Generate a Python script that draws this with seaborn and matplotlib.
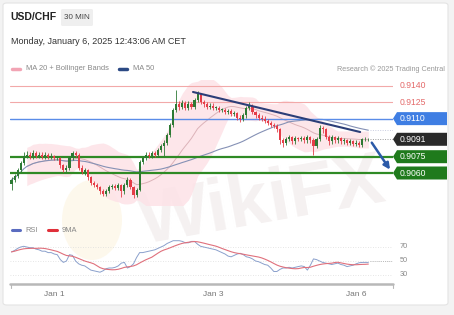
import numpy as np
import pandas as pd
import matplotlib
matplotlib.use("Agg")
import matplotlib.pyplot as plt
import seaborn as sns
from matplotlib.patches import FancyBboxPatch, FancyArrowPatch, Polygon, Ellipse

# ---------------- data ----------------
first_open = 0.9050
closes = [0.9054, 0.9057, 0.9063, 0.9069, 0.9076, 0.9077, 0.9075, 0.9078, 0.9076, 0.9077,
          0.9075, 0.9077, 0.9075, 0.9076, 0.9074, 0.9074, 0.9067, 0.9063, 0.9065, 0.9074,
          0.9078, 0.9077, 0.9065, 0.9061, 0.9063, 0.9056, 0.9051, 0.9049, 0.9047, 0.9043,
          0.9041, 0.9043, 0.9047, 0.9048, 0.9046, 0.9049, 0.9043, 0.9049, 0.9054, 0.9047,
          0.9040, 0.9044, 0.9070, 0.9074, 0.9077, 0.9076, 0.9078, 0.9077, 0.9081, 0.9085,
          0.9088, 0.9095, 0.9104, 0.9118, 0.9123, 0.9121, 0.9124, 0.9120, 0.9123, 0.9121,
          0.9127, 0.9133, 0.9125, 0.9123, 0.9121, 0.9122, 0.9120, 0.9120, 0.9118, 0.9118,
          0.9116, 0.9117, 0.9114, 0.9115, 0.9111, 0.9110, 0.9113, 0.9120, 0.9122, 0.9116,
          0.9113, 0.9111, 0.9110, 0.9108, 0.9106, 0.9104, 0.9103, 0.9100, 0.9090, 0.9088,
          0.9091, 0.9093, 0.9089, 0.9092, 0.9091, 0.9092, 0.9090, 0.9093, 0.9090, 0.9085,
          0.9091, 0.9101, 0.9100, 0.9093, 0.9089, 0.9093, 0.9090, 0.9092, 0.9089, 0.9090,
          0.9088, 0.9089, 0.9087, 0.9088, 0.9086, 0.9091, 0.9091, 0.9091]
highs = [0.9056, 0.9059, 0.9065, 0.9071, 0.9079, 0.9080, 0.9079, 0.9081, 0.9080, 0.9079,
         0.9079, 0.9079, 0.9078, 0.9078, 0.9077, 0.9076, 0.9075, 0.9068, 0.9067, 0.9076,
         0.9080, 0.9080, 0.9078, 0.9067, 0.9065, 0.9064, 0.9057, 0.9053, 0.9051, 0.9048,
         0.9045, 0.9045, 0.9049, 0.9050, 0.9050, 0.9051, 0.9050, 0.9051, 0.9056, 0.9055,
         0.9048, 0.9046, 0.9072, 0.9076, 0.9079, 0.9079, 0.9080, 0.9080, 0.9083, 0.9087,
         0.9090, 0.9097, 0.9106, 0.9120, 0.9136, 0.9126, 0.9127, 0.9126, 0.9126, 0.9125,
         0.9129, 0.9135, 0.9134, 0.9127, 0.9125, 0.9124, 0.9124, 0.9122, 0.9122, 0.9120,
         0.9120, 0.9119, 0.9119, 0.9117, 0.9116, 0.9113, 0.9115, 0.9122, 0.9125, 0.9123,
         0.9117, 0.9115, 0.9113, 0.9112, 0.9110, 0.9108, 0.9106, 0.9105, 0.9101, 0.9092,
         0.9093, 0.9095, 0.9094, 0.9094, 0.9093, 0.9094, 0.9094, 0.9095, 0.9094, 0.9092,
         0.9093, 0.9104, 0.9103, 0.9101, 0.9095, 0.9095, 0.9094, 0.9094, 0.9093, 0.9092,
         0.9091, 0.9091, 0.9090, 0.9090, 0.9089, 0.9092, 0.9093, 0.9092]
lows = [0.9044, 0.9052, 0.9055, 0.9061, 0.9067, 0.9074, 0.9073, 0.9073, 0.9074, 0.9074,
        0.9073, 0.9073, 0.9073, 0.9073, 0.9072, 0.9072, 0.9065, 0.9061, 0.9061, 0.9063,
        0.9072, 0.9075, 0.9063, 0.9059, 0.9058, 0.9054, 0.9049, 0.9047, 0.9045, 0.9041,
        0.9039, 0.9039, 0.9042, 0.9045, 0.9044, 0.9044, 0.9038, 0.9041, 0.9047, 0.9045,
        0.9037, 0.9038, 0.9043, 0.9068, 0.9072, 0.9074, 0.9074, 0.9075, 0.9075, 0.9079,
        0.9076, 0.9086, 0.9093, 0.9102, 0.9116, 0.9118, 0.9119, 0.9118, 0.9118, 0.9119,
        0.9119, 0.9125, 0.9123, 0.9121, 0.9119, 0.9119, 0.9118, 0.9118, 0.9116, 0.9116,
        0.9114, 0.9114, 0.9112, 0.9112, 0.9109, 0.9107, 0.9108, 0.9111, 0.9118, 0.9114,
        0.9111, 0.9109, 0.9108, 0.9106, 0.9104, 0.9102, 0.9101, 0.9098, 0.9087, 0.9084,
        0.9086, 0.9089, 0.9087, 0.9087, 0.9089, 0.9089, 0.9088, 0.9088, 0.9088, 0.9077,
        0.9083, 0.9089, 0.9097, 0.9091, 0.9086, 0.9087, 0.9088, 0.9088, 0.9087, 0.9087,
        0.9086, 0.9086, 0.9085, 0.9085, 0.9084, 0.9084, 0.9089, 0.9089]
rsi = [63, 65, 68, 70, 71, 70, 69, 69, 67, 66,
       64, 64, 62, 62, 60, 59, 52, 48, 50, 59,
       58, 50, 46, 44, 43, 40, 37, 36, 35, 34,
       36, 39, 40, 40, 41, 43, 47, 48, 40, 42,
       46, 55, 62, 62, 63, 64, 65, 66, 68, 70,
       72, 75, 77, 79, 79, 79, 78, 76, 76, 78,
       78, 74, 71, 70, 69, 68, 67, 66, 64, 62,
       60, 57, 56, 58, 60, 61, 59, 56, 55, 53,
       50, 49, 47, 45, 44, 40, 35, 35, 38, 40,
       40, 41, 40, 41, 42, 43, 42, 37, 44, 53,
       52, 50, 48, 47, 46, 45, 46, 47, 45, 44,
       42, 43, 44, 46, 47.5, 48, 48, 48]

date_labels = ["Jan 1", "Jan 3", "Jan 6"]
date_ticks = [14, 66, 113]

red_levels = [0.9140, 0.9125]
blue_level = 0.9110
last_price = 0.9091
green_levels = [0.9075, 0.9060]
level_labels = {0.9140: "0.9140", 0.9125: "0.9125", 0.9110: "0.9110",
                0.9091: "0.9091", 0.9075: "0.9075", 0.9060: "0.9060"}
trend_x = [59.5, 114.3]
trend_y = [0.91345, 0.90977]
arrow_from = (117.6, 0.9090)
arrow_to = (124.6, 0.9061)
rsi_levels = [70, 50, 30]

# ---------------- derived frame ----------------
n = len(closes)
idx = np.arange(n)
opens = [first_open] + closes[:-1]
df = pd.DataFrame({"i": idx, "open": opens, "close": closes, "high": highs, "low": lows,
                   "rsi": rsi})
df["ma20"] = df["close"].rolling(20, min_periods=6).mean()
df["sd20"] = df["close"].rolling(20, min_periods=6).std(ddof=0)
df["bb_up"] = df["ma20"] + 2 * df["sd20"]
df["bb_dn"] = df["ma20"] - 2 * df["sd20"]
df["ma50"] = df["close"].rolling(50, min_periods=1).mean()
df["rsi_ma"] = df["rsi"].rolling(9, min_periods=1).mean()

# ---------------- figure ----------------
sns.set_theme(style="white")
plt.rcParams["font.family"] = ["Liberation Sans", "DejaVu Sans"]

W, H = 454, 315
fig = plt.figure(figsize=(W / 100, H / 100), dpi=100)
fig.patch.set_facecolor("#f3f3f3")


def fx(px):
    return px / W


def fy(py):
    return 1 - py / H


card = FancyBboxPatch((fx(3), fy(305)), fx(448) - fx(3), fy(3) - fy(305),
                      boxstyle="round,pad=0,rounding_size=0.008", transform=fig.transFigure,
                      facecolor="white", edgecolor="#e4e4e4", lw=0.8, zorder=-10)
fig.patches.append(card)

# watermark
fig.text(fx(262), fy(203), "WikiFX", fontsize=54, fontweight="bold", color="#ebe3e3",
         alpha=0.5, rotation=10, ha="center", va="center", zorder=-5)
logo = Ellipse((fx(92), fy(220)), fx(60), 80 / H, transform=fig.transFigure,
               facecolor="#fdf6e4", edgecolor="none", alpha=0.7, zorder=-6)
fig.patches.append(logo)

# header
fig.text(fx(10), fy(17), "USD/CHF", fontsize=7.5, fontweight="bold", color="#222222", va="center")
hdr = FancyBboxPatch((fx(61), fy(26)), fx(32), 17 / H, boxstyle="round,pad=0,rounding_size=0.004",
                     transform=fig.transFigure, facecolor="#efefef", edgecolor="none")
fig.patches.append(hdr)
fig.text(fx(77), fy(17.5), "30 MIN", fontsize=5.8, color="#444444", ha="center", va="center")
fig.text(fx(11), fy(41.5), "Monday, January 6, 2025 12:43:06 AM CET", fontsize=6.5,
         color="#333333", va="center")

# legend row
fig.add_artist(plt.Line2D([fx(12), fx(20)], [fy(69), fy(69)], color="#f2a4b4", lw=2.5))
fig.text(fx(26), fy(69), "MA 20 + Bollinger Bands", fontsize=5.4, color="#888888", va="center")
fig.add_artist(plt.Line2D([fx(119), fx(127)], [fy(69), fy(69)], color="#2c4a84", lw=2.5))
fig.text(fx(133), fy(69), "MA 50", fontsize=5.4, color="#888888", va="center")
fig.text(fx(445), fy(69), "Research \u00a9 2025 Trading Central", fontsize=5.2, color="#999999",
         va="center", ha="right")

# ---------------- main price axes ----------------
x_left_px, x_right_px, px_per_candle = 10, 393, 3.05
xlim = (-0.5, -0.5 + (x_right_px - x_left_px) / px_per_candle)
top_px, bot_px = 80, 205


def py2price(py):
    return 0.9140 - (py - 86) * (0.0080 / 87)


ax = fig.add_axes([fx(x_left_px), fy(bot_px), fx(x_right_px) - fx(x_left_px), (bot_px - top_px) / H])
ax.set_facecolor("none")
ax.set_xlim(*xlim)
ax.set_ylim(py2price(bot_px), py2price(top_px))
ax.axis("off")

bb = df.dropna(subset=["bb_up"])
ax.fill_between(bb["i"], bb["bb_dn"], bb["bb_up"], color="#fde2e7", alpha=0.85, lw=0, zorder=1)
sns.lineplot(data=df, x="i", y="ma20", ax=ax, color="#dcb3b9", lw=0.7, zorder=1.5)
sns.lineplot(data=df, x="i", y="ma50", ax=ax, color="#8591b5", lw=0.8, zorder=1.6)

for lv in red_levels:
    ax.axhline(lv, color="#f2a9a9", lw=0.8, zorder=2)
ax.axhline(blue_level, color="#5a8ce8", lw=1.0, zorder=2)
for lv in green_levels:
    ax.axhline(lv, color="#2f8a25", lw=1.6, zorder=2)

# candles
up = df["close"] >= df["open"]
colors = np.where(up, "#2d7a34", "#e53e48")
ax.vlines(df["i"], df["low"], df["high"], colors=colors, lw=0.6, zorder=3)
ax.bar(df["i"], (df["close"] - df["open"]).abs().clip(lower=0.00005),
       bottom=df[["open", "close"]].min(axis=1), width=0.7, color=colors, lw=0, zorder=3.5)

# current price + ma50 dotted extension
ax.plot([n - 0.5, xlim[1]], [last_price, last_price], color="#9a9a9a", lw=0.7, ls=(0, (1, 1.5)), zorder=2)
ax.plot([n - 0.5, xlim[1]], [df["ma50"].iloc[-1]] * 2, color="#c9cde0", lw=0.7, ls=(0, (1, 1.5)), zorder=2)

# trend line & arrow
ax.plot(trend_x, trend_y, color="#2c3e78", lw=1.5, solid_capstyle="round", zorder=4)
ax.add_patch(FancyArrowPatch(arrow_from, arrow_to, arrowstyle="-|>", mutation_scale=9,
                             color="#2b5aa8", lw=1.8, zorder=5))

# right-side labels
for lv, col in [(0.9140, "#e46a6a"), (0.9125, "#e46a6a")]:
    yp = 86 + (0.9140 - lv) / (0.0080 / 87)
    fig.text(fx(400), fy(yp), level_labels[lv], fontsize=6.2, color=col, va="center")
for lv, col in [(blue_level, "#3f7ee3"), (last_price, "#2a2a2a"),
                (green_levels[0], "#1f7a1c"), (green_levels[1], "#1f7a1c")]:
    yp = 86 + (0.9140 - lv) / (0.0080 / 87)
    h = 6.5
    pts = [(fx(393), fy(yp)), (fx(397), fy(yp - h)), (fx(447), fy(yp - h)),
           (fx(447), fy(yp + h)), (fx(397), fy(yp + h))]
    fig.patches.append(Polygon(pts, closed=True, transform=fig.transFigure,
                               facecolor=col, edgecolor="none"))
    fig.text(fx(400), fy(yp), level_labels[lv], fontsize=6.2, color="white", va="center")

# ---------------- RSI axes ----------------
r_top, r_bot = 236, 284


def py2rsi(py):
    return 70 - (py - 247) / 0.7


axr = fig.add_axes([fx(x_left_px), fy(r_bot), fx(x_right_px) - fx(x_left_px), (r_bot - r_top) / H])
axr.set_facecolor("none")
axr.set_xlim(*xlim)
axr.set_ylim(py2rsi(r_bot), py2rsi(r_top))
axr.axis("off")
for lv in rsi_levels:
    axr.axhline(lv, color="#dddddd", lw=0.6, ls=(0, (1, 2)), zorder=1)
axr.plot([n - 0.5, xlim[1]], [50, 50], color="#aaaaaa", lw=0.6, ls=(0, (1, 1.5)), zorder=1)
sns.lineplot(data=df, x="i", y="rsi", ax=axr, color="#8aa0cc", lw=0.7, zorder=2)
sns.lineplot(data=df, x="i", y="rsi_ma", ax=axr, color="#e0707c", lw=0.8, zorder=3)
for lv in rsi_levels:
    fig.text(fx(400), fy(247 + (70 - lv) * 0.7), str(lv), fontsize=5.3, color="#888888", va="center")

fig.add_artist(plt.Line2D([fx(12), fx(20)], [fy(230), fy(230)], color="#5a6cc0", lw=2.2))
fig.text(fx(25), fy(230), "RSI", fontsize=5.4, color="#888888", va="center")
fig.add_artist(plt.Line2D([fx(48), fx(57)], [fy(230), fy(230)], color="#e0303a", lw=2.2))
fig.text(fx(62), fy(230), "9MA", fontsize=5.4, color="#888888", va="center")

# bottom axis line
fig.add_artist(plt.Line2D([fx(10), fx(393)], [fy(284), fy(284)], color="#b8b8b8", lw=1.8))
fig.add_artist(plt.Line2D([fx(10.5), fx(10.5)], [fy(284), fy(288)], color="#b8b8b8", lw=0.8))
fig.add_artist(plt.Line2D([fx(392.5), fx(392.5)], [fy(284), fy(288)], color="#b8b8b8", lw=0.8))
for lab, t in zip(date_labels, date_ticks):
    xp = x_left_px + (t + 0.5) * px_per_candle
    fig.text(fx(xp), fy(294.5), lab, fontsize=6, color="#777777", ha="center", va="center")

fig.savefig("out.png", dpi=100, facecolor=fig.get_facecolor())
